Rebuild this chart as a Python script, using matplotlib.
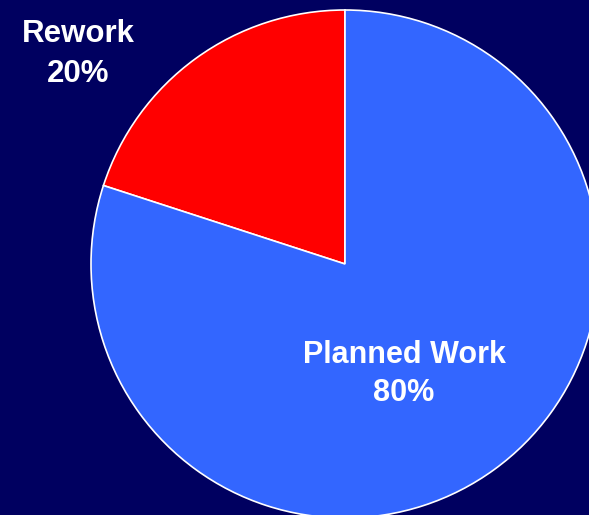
import matplotlib
matplotlib.use("Agg")
import matplotlib.pyplot as plt

# share of work
labels = ["Rework", "Planned Work"]
shares = [20, 80]
colors = ["#FF0000", "#3366FF"]

plt.rcParams["font.family"] = ["Liberation Sans", "DejaVu Sans"]

fig = plt.figure(figsize=(5.89, 5.15), dpi=100)
fig.patch.set_facecolor("#000060")
ax = fig.add_axes([0, 0, 1, 1])
ax.set_facecolor("#000060")
ax.set_xlim(0, 589)
ax.set_ylim(0, 515)
ax.set_aspect("equal")
ax.axis("off")

ax.pie(shares, colors=colors, startangle=90, counterclock=True,
       center=(345, 251), radius=254,
       wedgeprops=dict(edgecolor="white", linewidth=1.2))

ax.text(78, 461, f"{labels[0]}\n{shares[0]}%", color="white", fontsize=22.5,
        fontweight="bold", ha="center", va="center", linespacing=1.45)
ax.text(404, 141, f"{labels[1]}\n{shares[1]}%", color="white", fontsize=22,
        fontweight="bold", ha="center", va="center", linespacing=1.38)

ax.set_xlim(0, 589)
ax.set_ylim(0, 515)
fig.savefig("out.png", dpi=100, facecolor=fig.get_facecolor())
plt.close(fig)
